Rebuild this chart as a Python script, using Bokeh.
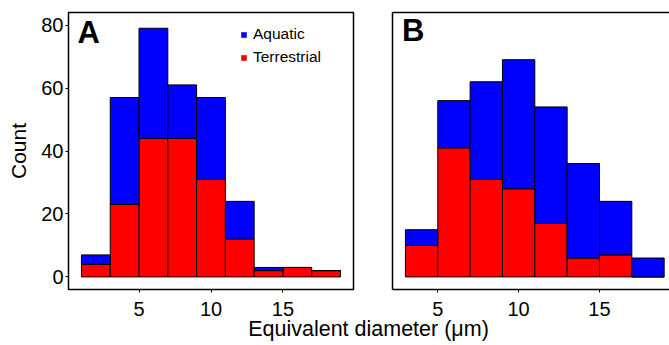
from bokeh.plotting import figure
from bokeh.models import (Range1d, FixedTicker, LinearAxis, Legend, LegendItem,
                          Label, ColumnDataSource, Div)
from bokeh.layouts import column, row
from bokeh.embed import file_html
from bokeh.resources import INLINE

# ---- data ----
series = ["Terrestrial", "Aquatic"]
a_bin_mid = [2, 4, 6, 8, 10, 12, 14, 16, 18]
a_terrestrial = [4, 23, 44, 44, 31, 12, 2, 3, 2]
a_aquatic = [3, 34, 35, 17, 26, 12, 1, 0, 0]

b_bin_mid = [4, 6, 8, 10, 12, 14, 16, 18]
b_terrestrial = [10, 41, 31, 28, 17, 6, 7, 0]
b_aquatic = [5, 15, 31, 41, 37, 30, 17, 6]

bin_width = 2
x_ticks = [5, 10, 15]
y_ticks = [0, 20, 40, 60, 80]

FONT = "Liberation Sans"
BLUE = "#0000FF"
RED = "#FF0000"

y_range = Range1d(-4.0, 84.0)
FIG_H = 324


def style_common(p):
    p.grid.visible = False
    p.background_fill_color = "white"
    p.border_fill_color = "white"
    for ax in p.xaxis:
        ax.ticker = FixedTicker(ticks=x_ticks)
        ax.major_tick_out = 3
        ax.major_tick_in = 0
        ax.minor_tick_line_color = None
        ax.major_tick_line_color = "black"
        ax.major_label_text_font = FONT
        ax.major_label_text_font_size = "20px"
        ax.major_label_text_color = "black"
        ax.major_label_standoff = 9


# ---- Panel A ----
pA = figure(width=372, height=FIG_H, output_backend="svg", toolbar_location=None,
            x_range=Range1d(0.1, 19.9), y_range=y_range,
            min_border_left=68, min_border_right=19, min_border_top=12,
            min_border_bottom=FIG_H - 289)
srcA = ColumnDataSource(dict(x=a_bin_mid, Terrestrial=a_terrestrial, Aquatic=a_aquatic))
pA.vbar_stack(series, x="x", width=bin_width, source=srcA,
              fill_color=[RED, BLUE], line_color="black", line_width=1)
style_common(pA)
pA.outline_line_color = "black"
pA.outline_line_width = 1.5
pA.xaxis.axis_line_color = None
pA.yaxis.axis_line_color = None
pA.yaxis.ticker = FixedTicker(ticks=y_ticks)
pA.yaxis.major_tick_out = 3
pA.yaxis.major_tick_in = 0
pA.yaxis.minor_tick_line_color = None
pA.yaxis.major_label_text_font = FONT
pA.yaxis.major_label_text_font_size = "20px"
pA.yaxis.major_label_text_color = "black"
pA.yaxis.major_label_standoff = 2
pA.yaxis.axis_label = "Count"
pA.yaxis.axis_label_text_font = FONT
pA.yaxis.axis_label_text_font_size = "21px"
pA.yaxis.axis_label_text_font_style = "normal"
pA.yaxis.axis_label_text_color = "black"
pA.yaxis.axis_label_standoff = 8

# legend (plain squares; proxy renderers placed far outside the view)
rAq = pA.vbar(x=[-100], top=[1], width=1, fill_color=BLUE, line_color=None)
rTe = pA.vbar(x=[-100], top=[1], width=1, fill_color=RED, line_color=None)
leg = Legend(items=[LegendItem(label="Aquatic", renderers=[rAq], index=0),
                    LegendItem(label="Terrestrial", renderers=[rTe], index=0)],
             location=(172, 223), orientation="vertical",
             glyph_width=7, glyph_height=7, label_height=17, spacing=5,
             padding=0, margin=0, label_standoff=6,
             label_text_font=FONT, label_text_font_size="15.5px",
             label_text_color="black",
             border_line_color=None, background_fill_alpha=0)
pA.add_layout(leg)

pA.add_layout(Label(x=0.73, y=77.7, text="A", text_font=FONT,
                    text_font_size="31px", text_font_style="bold",
                    text_color="black", text_baseline="alphabetic"))

# ---- Panel B ----
pB = figure(width=297, height=FIG_H, output_backend="svg", toolbar_location=None,
            x_range=Range1d(2.2, 19.33), y_range=y_range,
            min_border_left=20, min_border_right=0, min_border_top=12,
            min_border_bottom=FIG_H - 289)
srcB = ColumnDataSource(dict(x=b_bin_mid, Terrestrial=b_terrestrial, Aquatic=b_aquatic))
pB.vbar_stack(series, x="x", width=bin_width, source=srcB,
              fill_color=[RED, BLUE], line_color="black", line_width=1)
style_common(pB)
pB.outline_line_color = None
pB.xaxis.axis_line_color = "black"
pB.xaxis.axis_line_width = 1.5
pB.yaxis.ticker = FixedTicker(ticks=[])
pB.yaxis.axis_line_color = "black"
pB.yaxis.axis_line_width = 1.5
pB.yaxis.minor_tick_line_color = None
top_axis = LinearAxis(ticker=FixedTicker(ticks=[]), axis_line_color="black",
                      axis_line_width=1.5, minor_tick_line_color=None,
                      major_tick_line_color=None)
pB.add_layout(top_axis, "above")

pB.add_layout(Label(x=2.78, y=78.2, text="B", text_font=FONT,
                    text_font_size="31px", text_font_style="bold",
                    text_color="black", text_baseline="alphabetic"))

title = Div(text="Equivalent diameter (&mu;m)", width=601, height=12,
            margin=(0, 0, 0, 68),
            styles={"text-align": "center", "font-size": "21.5px",
                    "font-family": FONT, "line-height": "10px",
                    "color": "black"})

layout = column(row(pA, pB, spacing=0), title, spacing=0)

open("out.html", "w").write(file_html(layout, INLINE))
